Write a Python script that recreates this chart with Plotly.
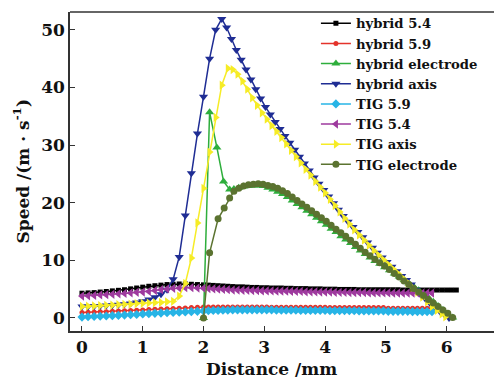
import plotly.graph_objects as go

# ---------------- data ----------------
X_LEFT = [0.0, 0.1, 0.2, 0.3, 0.4, 0.5, 0.6, 0.7, 0.8, 0.9, 1.0,
          1.1, 1.2, 1.3, 1.4, 1.5, 1.6, 1.7, 1.8, 1.9, 2.0]
X_TAIL = [2.08, 2.16, 2.24, 2.32, 2.40, 2.48, 2.56, 2.64, 2.72, 2.80,
          2.88, 2.96, 3.04, 3.12, 3.20, 3.28, 3.36, 3.44, 3.52, 3.60,
          3.68, 3.76, 3.84, 3.92, 4.00, 4.08, 4.16, 4.24, 4.32, 4.40,
          4.48, 4.56, 4.64, 4.72, 4.80, 4.88, 4.96, 5.04, 5.12, 5.20,
          5.28, 5.36, 5.44, 5.52, 5.60, 5.68, 5.76, 5.84, 5.92, 6.00,
          6.08, 6.16]

hybrid54_x = X_LEFT + X_TAIL
hybrid54_y = [4.3, 4.35, 4.4, 4.5, 4.6, 4.7, 4.8, 4.9, 5.05, 5.2, 5.35,
              5.5, 5.6, 5.7, 5.8, 5.85, 5.9, 5.9, 5.85, 5.8, 5.75,
              5.7, 5.65, 5.6, 5.55, 5.5, 5.45, 5.4, 5.4, 5.35, 5.3,
              5.3, 5.25, 5.25, 5.2, 5.2, 5.2, 5.15, 5.15, 5.1, 5.1,
              5.1, 5.05, 5.05, 5.05, 5.0, 5.0, 5.0, 4.95, 4.95, 4.95,
              4.95, 4.9, 4.9, 4.9, 4.9, 4.9, 4.9, 4.9, 4.9, 4.9,
              4.85, 4.85, 4.85, 4.85, 4.85, 4.85, 4.85, 4.85, 4.85, 4.85,
              4.85, 4.85]

hybrid59_x = X_LEFT + X_TAIL[:47]
hybrid59_y = [0.95, 1.0, 1.05, 1.1, 1.1, 1.15, 1.2, 1.25, 1.3, 1.35, 1.4,
              1.45, 1.5, 1.55, 1.6, 1.65, 1.7, 1.75, 1.8, 1.85, 1.9,
              1.9, 1.9, 1.9, 1.9, 1.9, 1.9, 1.9, 1.9, 1.9, 1.9,
              1.9, 1.9, 1.9, 1.85, 1.85, 1.85, 1.85, 1.85, 1.85, 1.85,
              1.85, 1.85, 1.85, 1.85, 1.85, 1.8, 1.8, 1.8, 1.8, 1.8,
              1.8, 1.8, 1.8, 1.8, 1.8, 1.8, 1.8, 1.7, 1.7, 1.7,
              1.7, 1.7, 1.7, 1.7, 1.7, 1.7, 1.7]

helec_x = [2.0, 2.1, 2.22, 2.33, 2.43,
           2.50, 2.58, 2.66, 2.74, 2.82, 2.90, 2.98, 3.06, 3.14, 3.22,
           3.30, 3.38, 3.46, 3.54, 3.62, 3.70, 3.78, 3.86, 3.94, 4.02,
           4.10, 4.18, 4.26, 4.34, 4.42, 4.50, 4.58, 4.66, 4.74, 4.82,
           4.90, 4.98, 5.06, 5.14, 5.22, 5.30, 5.38, 5.46, 5.54, 5.62,
           5.70, 5.78, 5.86, 5.94, 6.02, 6.10]
helec_y = [0.0, 35.7, 29.6, 23.7, 22.3,
           22.4, 22.6, 22.8, 22.9, 23.0, 23.0, 22.9, 22.6, 22.3, 21.9,
           21.5, 21.0, 20.4, 19.8, 19.2, 18.6, 18.0, 17.4, 16.8, 16.2,
           15.5, 14.9, 14.2, 13.6, 13.0, 12.3, 11.7, 11.1, 10.5, 9.9,
           9.4, 8.8, 8.3, 7.7, 7.2, 6.6, 6.0, 5.4, 4.8, 4.1,
           3.5, 2.8, 2.1, 1.4, 0.7, 0.1]

haxis_x = [0.0, 0.1, 0.2, 0.3, 0.4, 0.5, 0.6, 0.7, 0.8, 0.9, 1.0,
           1.1, 1.2, 1.3, 1.4, 1.5, 1.6, 1.7, 1.8, 1.9, 2.0, 2.1, 2.2, 2.3,
           2.38, 2.46, 2.54, 2.62, 2.70, 2.78, 2.86, 2.94, 3.02, 3.10,
           3.18, 3.26, 3.34, 3.42, 3.50, 3.58, 3.66, 3.74, 3.82, 3.90,
           3.98, 4.06, 4.14, 4.22, 4.30, 4.38, 4.46, 4.54, 4.62, 4.70,
           4.78, 4.86, 4.94, 5.02, 5.10, 5.18, 5.26, 5.34, 5.42, 5.50,
           5.58, 5.66, 5.74, 5.82, 5.90, 5.98, 6.04]
haxis_y = [2.0, 2.0, 2.05, 2.1, 2.15, 2.2, 2.3, 2.4, 2.5, 2.7, 2.9,
           3.2, 3.6, 4.1, 4.9, 6.7, 10.6, 17.8, 25.1, 32.0, 38.4, 45.0, 50.0, 51.9,
           50.4, 48.4, 46.5, 44.8, 43.1, 41.4, 39.7, 38.1, 36.6, 35.3,
           34.0, 32.8, 31.6, 30.4, 29.2, 28.0, 26.8, 25.6, 24.4, 23.3,
           22.2, 21.1, 19.9, 18.8, 17.7, 16.7, 15.8, 14.9, 14.0, 13.1,
           12.2, 11.3, 10.5, 9.7, 8.9, 8.1, 7.3, 6.6, 5.8, 4.9,
           4.0, 3.2, 2.4, 1.7, 1.0, 0.4, 0.0]

tig59_x = X_LEFT + X_TAIL[:47]
tig59_y = [0.15, 0.2, 0.25, 0.3, 0.35, 0.4, 0.45, 0.5, 0.55, 0.6, 0.7,
           0.75, 0.8, 0.85, 0.9, 0.95, 1.0, 1.05, 1.1, 1.15, 1.2,
           1.25, 1.3, 1.3, 1.35, 1.35, 1.4, 1.4, 1.4, 1.4, 1.4,
           1.4, 1.4, 1.4, 1.4, 1.35, 1.35, 1.35, 1.35, 1.35, 1.3,
           1.3, 1.3, 1.3, 1.3, 1.3, 1.25, 1.25, 1.25, 1.25, 1.25,
           1.25, 1.2, 1.2, 1.2, 1.2, 1.2, 1.2, 1.15, 1.15, 1.15,
           1.15, 1.15, 1.1, 1.1, 1.1, 1.1, 1.1]

tig54_x = X_LEFT + X_TAIL[:47]
tig54_y = [3.8, 3.85, 3.9, 4.0, 4.05, 4.1, 4.2, 4.25, 4.35, 4.45, 4.5,
           4.6, 4.75, 4.9, 5.05, 5.15, 5.2, 5.25, 5.25, 5.2, 5.15,
           5.1, 5.05, 5.0, 4.95, 4.9, 4.85, 4.85, 4.8, 4.8, 4.75,
           4.75, 4.7, 4.7, 4.7, 4.65, 4.65, 4.65, 4.6, 4.6, 4.6,
           4.55, 4.55, 4.55, 4.5, 4.5, 4.5, 4.45, 4.45, 4.45, 4.4,
           4.4, 4.4, 4.4, 4.35, 4.35, 4.35, 4.35, 4.35, 4.3, 4.3,
           4.3, 4.3, 4.3, 4.3, 4.3, 4.3, 4.3]

taxis_x = [0.0, 0.1, 0.2, 0.3, 0.4, 0.5, 0.6, 0.7, 0.8, 0.9, 1.0,
           1.1, 1.2, 1.3, 1.4, 1.5, 1.6, 1.7, 1.8, 1.9, 2.0, 2.1, 2.2, 2.3, 2.4,
           2.48, 2.56, 2.64, 2.72, 2.80, 2.88, 2.96, 3.04, 3.12, 3.20,
           3.28, 3.36, 3.44, 3.52, 3.60, 3.68, 3.76, 3.84, 3.92, 4.00,
           4.08, 4.16, 4.24, 4.32, 4.40, 4.48, 4.56, 4.64, 4.72, 4.80,
           4.88, 4.96, 5.04, 5.12, 5.20, 5.28, 5.36, 5.44, 5.52, 5.60,
           5.68, 5.76, 5.84, 5.92, 5.98]
taxis_y = [2.0, 2.05, 2.1, 2.15, 2.2, 2.25, 2.3, 2.35, 2.4, 2.5, 2.55,
           2.6, 2.65, 2.7, 2.8, 2.9, 3.8, 6.0, 10.4, 16.5, 22.5, 28.8, 34.8, 40.4, 43.3,
           43.1, 42.3, 41.1, 39.7, 38.2, 36.9, 35.6, 34.5, 33.4, 32.4,
           31.3, 30.2, 29.1, 28.0, 26.9, 25.8, 24.8, 23.7, 22.7, 21.7,
           20.6, 19.5, 18.4, 17.3, 16.3, 15.3, 14.4, 13.5, 12.6, 11.7,
           10.9, 10.1, 9.3, 8.5, 7.7, 6.9, 6.1, 5.3, 4.5, 3.6,
           2.8, 2.0, 1.3, 0.7, 0.2]

telec_x = [2.0, 2.1, 2.24, 2.34, 2.43,
           2.50, 2.58, 2.66, 2.74, 2.82, 2.90, 2.98, 3.06, 3.14, 3.22,
           3.30, 3.38, 3.46, 3.54, 3.62, 3.70, 3.78, 3.86, 3.94, 4.02,
           4.10, 4.18, 4.26, 4.34, 4.42, 4.50, 4.58, 4.66, 4.74, 4.82,
           4.90, 4.98, 5.06, 5.14, 5.22, 5.30, 5.38, 5.46, 5.54, 5.62,
           5.70, 5.78, 5.86, 5.94, 6.02, 6.10]
telec_y = [0.0, 11.3, 17.2, 19.1, 20.8,
           22.0, 22.5, 22.9, 23.1, 23.2, 23.3, 23.2, 23.0, 22.8, 22.5,
           22.1, 21.6, 21.0, 20.4, 19.8, 19.2, 18.6, 18.0, 17.4, 16.8,
           16.1, 15.4, 14.8, 14.2, 13.5, 12.8, 12.1, 11.4, 10.8, 10.2,
           9.6, 9.0, 8.4, 7.7, 7.1, 6.4, 5.8, 5.1, 4.5, 3.9,
           3.2, 2.6, 2.0, 1.4, 0.8, 0.1]

X_TICKS = [0, 1, 2, 3, 4, 5, 6]
Y_TICKS = [0, 10, 20, 30, 40, 50]

SERIES = [
    ("hybrid 5.4", hybrid54_x, hybrid54_y, "#000000", "square", 5),
    ("hybrid 5.9", hybrid59_x, hybrid59_y, "#e4332b", "circle", 5),
    ("hybrid electrode", helec_x, helec_y, "#2eae3c", "triangle-up", 8),
    ("hybrid axis", haxis_x, haxis_y, "#1f2d94", "triangle-down", 8),
    ("TIG 5.9", tig59_x, tig59_y, "#27b4e6", "diamond", 7),
    ("TIG 5.4", tig54_x, tig54_y, "#9e3a9e", "triangle-left", 8),
    ("TIG axis", taxis_x, taxis_y, "#f6ec26", "triangle-right", 8),
    ("TIG electrode", telec_x, telec_y, "#5b7330", "circle", 7),
]

FONT = "DejaVu Serif"

fig = go.Figure()
for name, xs, ys, color, symbol, size in SERIES:
    fig.add_trace(go.Scatter(
        x=xs, y=ys, name=name, mode="lines+markers",
        line=dict(color=color, width=1.5),
        marker=dict(symbol=symbol, size=size, color=color, line=dict(width=0)),
    ))

axis_common = dict(
    showgrid=False, zeroline=False, showline=True, linecolor="#333333",
    linewidth=1.5, ticks="inside", ticklen=5, tickwidth=1.2, tickcolor="#333333",
    tickfont=dict(family=FONT, size=17, color="#111111", weight="bold"),
    automargin=False, mirror=False,
)

fig.update_layout(
    width=494, height=380,
    margin=dict(l=70, r=0, t=12, b=49, autoexpand=False),
    paper_bgcolor="white", plot_bgcolor="white",
    showlegend=True,
    legend=dict(
        x=0.58, y=1.012, xanchor="left", yanchor="top",
        bgcolor="rgba(0,0,0,0)", borderwidth=0,
        font=dict(family=FONT, size=13.2, color="#111111", weight="bold"),
        tracegroupgap=0, itemwidth=30,
    ),
    xaxis=dict(range=[-0.197, 6.78], tickvals=X_TICKS, **axis_common),
    yaxis=dict(range=[-2.26, 53.1], tickvals=Y_TICKS, **axis_common),
    shapes=[
        dict(type="line", xref="paper", yref="paper", x0=0, x1=1, y0=1, y1=1,
             line=dict(color="#333333", width=1.5)),
    ],
    annotations=[
        dict(text="Distance /mm", xref="paper", yref="paper", x=0.475, y=0,
             yshift=-38, xanchor="center", yanchor="middle", showarrow=False,
             font=dict(family=FONT, size=17, color="#111111", weight="bold")),
        dict(text="Speed /(m · s<sup>-1</sup>)", xref="paper", yref="paper",
             x=0, y=0.5, xshift=-49, xanchor="center", yanchor="middle",
             textangle=-90, showarrow=False,
             font=dict(family=FONT, size=17, color="#111111", weight="bold")),
    ],
)

fig.write_html(
    "out.html",
    config={"displayModeBar": False},
    post_script=("document.body.style.margin='0';document.body.style.padding='0';"
                 "document.body.style.overflow='hidden';"
                 "document.documentElement.style.overflow='hidden';"),
)
